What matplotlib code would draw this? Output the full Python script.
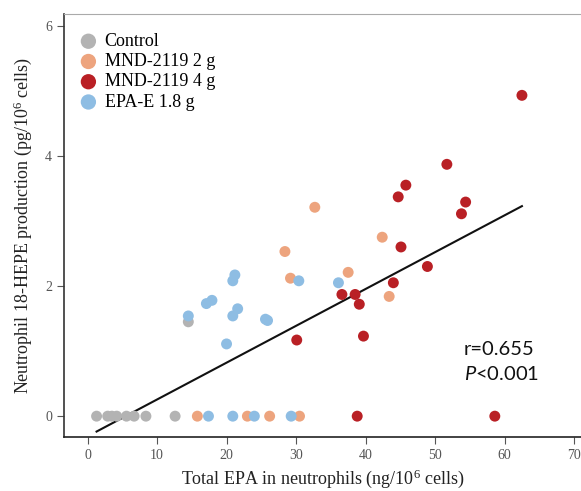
import matplotlib.pyplot as plt
import numpy as np

# group data: x = total EPA (ng/10^6 cells), y = 18-HEPE (pg/10^6 cells)
control_x = [1.3, 2.9, 3.5, 4.2, 5.6, 6.7, 8.4, 12.6, 14.5]
control_y = [0, 0, 0, 0, 0, 0, 0, 0, 1.45]

mnd2_x = [15.8, 23.0, 26.2, 30.5, 29.2, 28.4, 32.7, 37.5, 42.4, 43.4]
mnd2_y = [0, 0, 0, 0, 2.12, 2.53, 3.21, 2.21, 2.75, 1.84]

mnd4_x = [38.8, 58.6, 62.5, 51.7, 45.8, 44.7, 54.4, 53.8, 45.1, 48.9,
          44.0, 36.6, 38.5, 39.1, 39.7, 30.1]
mnd4_y = [0, 0, 4.93, 3.87, 3.55, 3.37, 3.29, 3.11, 2.60, 2.30,
          2.05, 1.87, 1.87, 1.72, 1.23, 1.17]

epa_x = [17.4, 20.9, 24.0, 29.3, 14.5, 17.1, 17.9, 20.9, 21.2, 20.9,
         21.6, 20.0, 25.6, 25.9, 30.4, 36.1]
epa_y = [0, 0, 0, 0, 1.54, 1.73, 1.78, 2.08, 2.17, 1.54,
         1.65, 1.11, 1.49, 1.47, 2.08, 2.05]

groups = ['Control', 'MND-2119 2 g', 'MND-2119 4 g', 'EPA-E 1.8 g']
colors = ['#b3b3b3', '#eda47e', '#b92025', '#8ebde3']
stats_text = ['r=0.655', '$P$<0.001']

# regression line as drawn in the figure
fit_slope = 0.0566
fit_intercept = -0.31

serif = 'Liberation Serif'
plt.rcParams['mathtext.fontset'] = 'custom'
plt.rcParams['mathtext.rm'] = serif
plt.rcParams['mathtext.it'] = 'Lato:italic'

fig = plt.figure(figsize=(5.81, 4.91), dpi=100)
ax = fig.add_axes([0.110, 0.110, 0.890, 0.8615])

series = [(control_x, control_y), (mnd2_x, mnd2_y), (mnd4_x, mnd4_y), (epa_x, epa_y)]
for (xs, ys), name, c in zip(series, groups, colors):
    ax.scatter(xs, ys, s=62, color=c, edgecolors='none', label=name, zorder=3)

all_x = np.concatenate([np.asarray(s[0]) for s in series])
xl = np.array([all_x.min(), all_x.max()])
ax.plot(xl, fit_slope * xl + fit_intercept, color='#111111', lw=1.5, zorder=2)

ax.text(0.773, 0.195, stats_text[0], transform=ax.transAxes, fontsize=14.5,
        family='Lato', color='#111111', ha='left')
ax.text(0.773, 0.135, stats_text[1], transform=ax.transAxes, fontsize=14.5,
        family='Lato', color='#111111', ha='left')

ax.set_xlim(-3.4, 71)
ax.set_ylim(-0.32, 6.18)
ax.set_xticks(range(0, 71, 10))
ax.set_yticks([0, 2, 4, 6])
ax.tick_params(direction='out', length=5, width=0.8, colors='#555555',
               labelsize=10, labelcolor='#555555')
for lab in ax.get_xticklabels() + ax.get_yticklabels():
    lab.set_family(serif)

ax.set_xlabel('Total EPA in neutrophils (ng/10$^\\mathrm{6}$ cells)', family=serif,
              fontsize=13, color='#222222', labelpad=4)
ax.set_ylabel('Neutrophil 18-HEPE production (pg/10$^\\mathrm{6}$ cells)', family=serif,
              fontsize=13, color='#222222', labelpad=8)

ax.spines['left'].set_color('#333333')
ax.spines['bottom'].set_color('#222222')
ax.spines['top'].set_color('#aaaaaa')
ax.spines['right'].set_visible(False)
ax.spines['left'].set_linewidth(1.2)
ax.spines['bottom'].set_linewidth(1.2)

leg = ax.legend(loc='upper left', bbox_to_anchor=(-0.012, 0.985), frameon=False,
                prop={'family': serif, 'size': 13}, handletextpad=-0.1,
                labelspacing=0.18, markerscale=1.4, borderaxespad=0.3)

fig.savefig('out.png', dpi=100)
